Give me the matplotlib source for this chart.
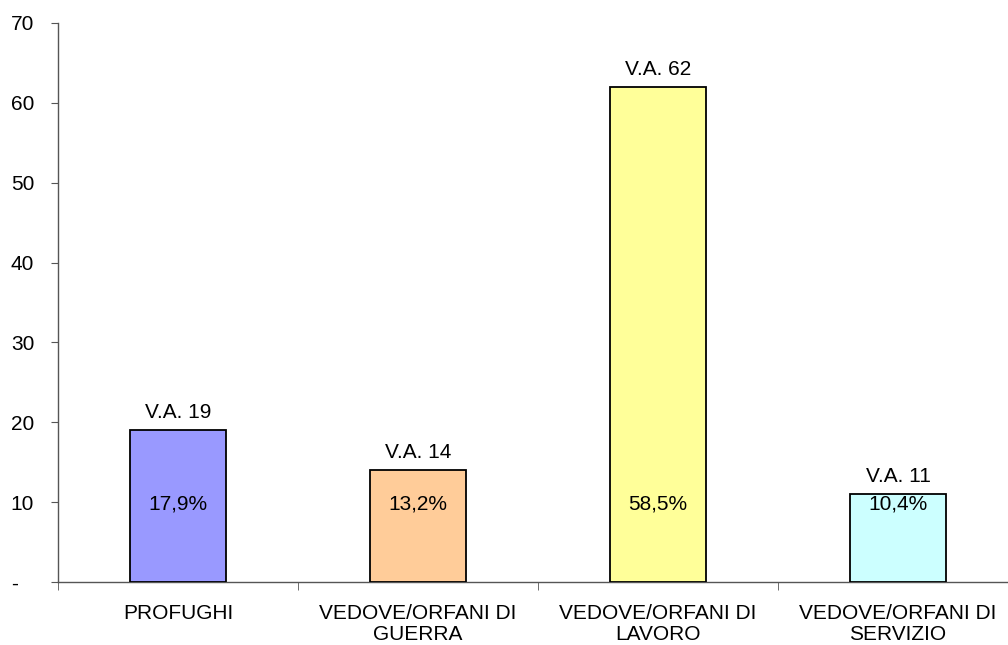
import matplotlib
matplotlib.use("Agg")
import matplotlib.pyplot as plt

categories = ["PROFUGHI", "VEDOVE/ORFANI DI\nGUERRA", "VEDOVE/ORFANI DI\nLAVORO", "VEDOVE/ORFANI DI\nSERVIZIO"]
values = [19, 14, 62, 11]
percents = ["17,9%", "13,2%", "58,5%", "10,4%"]
colors = ["#9999FF", "#FFCC99", "#FFFF99", "#CCFFFF"]
yticks = [0, 10, 20, 30, 40, 50, 60, 70]
yticklabels = ["-", "10", "20", "30", "40", "50", "60", "70"]

plt.rcParams['font.family'] = ['Liberation Sans', 'DejaVu Sans']
FS = 15

fig = plt.figure(figsize=(10.08, 6.45), dpi=100)
ax = fig.add_axes([58/1008, 63/645, 960/1008, 559/645])

x = list(range(len(categories)))
bars = ax.bar(x, values, width=0.4, color=colors, edgecolor="black", linewidth=1.3, zorder=3)

for xi, v, p in zip(x, values, percents):
    ax.annotate(f"V.A. {v}", (xi, v), xytext=(0, 6), textcoords="offset points",
                ha="center", va="bottom", fontsize=FS)
    ax.text(xi, 10, p, ha="center", va="center_baseline", fontsize=FS, zorder=4)

ax.set_xlim(-0.5, len(categories) - 0.5)
ax.set_ylim(0, 70)
ax.set_yticks(yticks)
ax.set_yticklabels(yticklabels, fontsize=FS)
ax.set_xticks(x)
ax.set_xticklabels(categories, fontsize=FS, linespacing=1.1)
ax.tick_params(axis="x", length=0, pad=16)
ax.set_xticks([i + 0.5 for i in range(-1, len(categories))], minor=True)
ax.tick_params(axis="x", which="minor", length=6, direction="out", color="#555555")
ax.tick_params(axis="y", length=5, direction="out", color="#555555", pad=29)
for lbl in ax.get_yticklabels():
    lbl.set_horizontalalignment("left")
for s in ["top", "right"]:
    ax.spines[s].set_visible(False)
for s in ["left", "bottom"]:
    ax.spines[s].set_color("#555555")
    ax.spines[s].set_linewidth(1.0)

fig.savefig("out.png", dpi=100)
